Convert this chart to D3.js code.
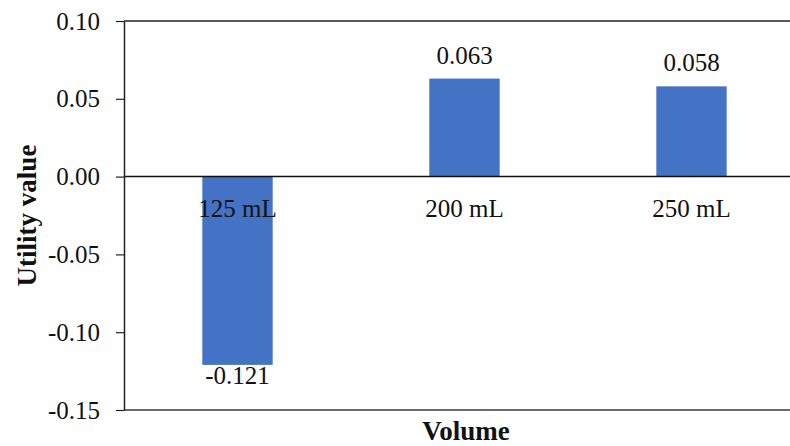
<!DOCTYPE html>
<html>
<head>
<meta charset="utf-8">
<script src="https://cdn.jsdelivr.net/npm/d3@7"></script>
<style>
  body { margin: 0; background: #fff; }
  svg { display: block; font-family: "Liberation Serif", "Times New Roman", serif; }
</style>
</head>
<body>
<div id="chart"></div>
<script>
var categories = ["125 mL", "200 mL", "250 mL"];
var utilityValues = [-0.121, 0.063, 0.058];
var valueLabels = ["-0.121", "0.063", "0.058"];
var yTicks = [-0.15, -0.10, -0.05, 0.00, 0.05, 0.10];

var width = 790, height = 446;
var plotLeft = 124, plotTop = 21, plotBottom = 410, plotRight = 805;

var svg = d3.select("#chart").append("svg")
  .attr("width", width)
  .attr("height", height);

var x = d3.scaleBand().domain(categories).range([plotLeft, plotRight])
  .paddingInner(0.69).paddingOuter(0.345);
var y = d3.scaleLinear().domain([-0.15, 0.10]).range([plotBottom, plotTop]);

// ── Frame ───────────────────────────────────────────
svg.append("line")
  .attr("x1", plotLeft).attr("x2", width)
  .attr("y1", y(0.10)).attr("y2", y(0.10))
  .attr("stroke", "#222").attr("stroke-width", 1.5);
svg.append("line")
  .attr("x1", plotLeft).attr("x2", width)
  .attr("y1", y(-0.15)).attr("y2", y(-0.15))
  .attr("stroke", "#6b6b6b").attr("stroke-width", 2);

// ── Bars ────────────────────────────────────────────
svg.selectAll(".bar")
  .data(utilityValues)
  .join("rect")
  .attr("class", "bar")
  .attr("x", function (d, i) { return x(categories[i]); })
  .attr("width", x.bandwidth())
  .attr("y", function (d) { return y(Math.max(0, d)); })
  .attr("height", function (d) { return Math.abs(y(d) - y(0)); })
  .attr("fill", "#4472C4");

// zero line
svg.append("line")
  .attr("x1", plotLeft).attr("x2", width)
  .attr("y1", y(0)).attr("y2", y(0))
  .attr("stroke", "#111").attr("stroke-width", 1.5);

// ── Y axis ──────────────────────────────────────────
var yAxis = d3.axisLeft(y)
  .tickValues(yTicks)
  .tickSize(8)
  .tickPadding(16)
  .tickSizeOuter(0)
  .tickFormat(function (d) { return d3.format(".2f")(d).replace("\u2212", "-"); });

var gy = svg.append("g")
  .attr("transform", "translate(" + plotLeft + ",0)")
  .call(yAxis);
gy.select(".domain").attr("stroke", "#222").attr("stroke-width", 1.5);
gy.selectAll(".tick line").attr("stroke", "#222").attr("stroke-width", 1.2);
gy.selectAll(".tick text")
  .attr("font-family", "Liberation Serif, Times New Roman, serif")
  .attr("font-size", 25)
  .attr("fill", "#111");

// ── Category labels ─────────────────────────────────
svg.selectAll(".cat")
  .data(categories)
  .join("text")
  .attr("class", "cat")
  .attr("x", function (d) { return x(d) + x.bandwidth() / 2; })
  .attr("y", y(0) + 40)
  .attr("text-anchor", "middle")
  .attr("font-size", 25)
  .attr("fill", "#111")
  .text(function (d) { return d; });

// ── Value labels ────────────────────────────────────
svg.selectAll(".val")
  .data(utilityValues)
  .join("text")
  .attr("class", "val")
  .attr("x", function (d, i) { return x(categories[i]) + x.bandwidth() / 2; })
  .attr("y", function (d) { return d >= 0 ? y(d) - 15 : y(d) + 19; })
  .attr("text-anchor", "middle")
  .attr("font-size", 25)
  .attr("fill", "#111")
  .text(function (d, i) { return valueLabels[i]; });

// ── Axis titles ─────────────────────────────────────
svg.append("text")
  .attr("x", 466)
  .attr("y", 440)
  .attr("text-anchor", "middle")
  .attr("font-size", 27)
  .attr("font-weight", "bold")
  .attr("fill", "#111")
  .text("Volume");

svg.append("text")
  .attr("transform", "translate(36," + ((plotTop + plotBottom) / 2) + ") rotate(-90)")
  .attr("text-anchor", "middle")
  .attr("font-size", 27)
  .attr("font-weight", "bold")
  .attr("fill", "#111")
  .text("Utility value");
</script>
</body>
</html>
